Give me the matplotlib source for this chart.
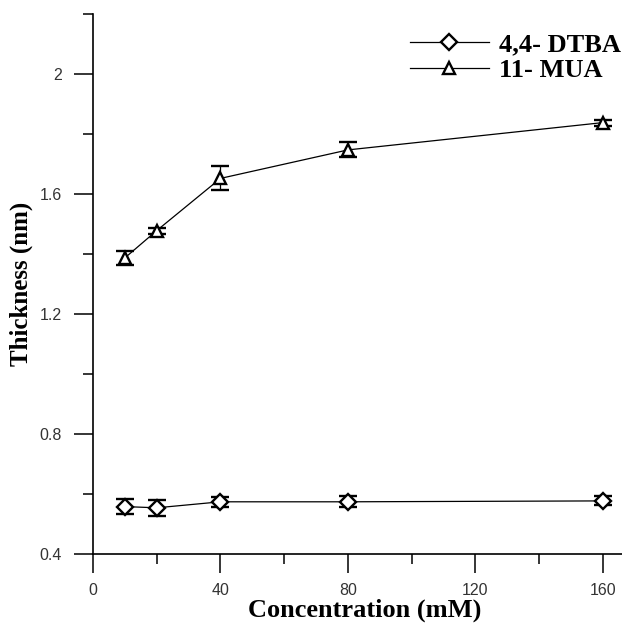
import matplotlib
matplotlib.use('Agg')
import matplotlib.pyplot as plt
from matplotlib.ticker import FixedLocator
from matplotlib.lines import Line2D

conc = [10, 20, 40, 80, 160]
dtba = [0.558, 0.554, 0.574, 0.574, 0.577]
dtba_err = [0.025, 0.027, 0.016, 0.018, 0.015]
mua = [1.387, 1.478, 1.652, 1.747, 1.838]
mua_err = [0.022, 0.01, 0.04, 0.025, 0.01]

xticks = [0, 40, 80, 120, 160]
yticks = [0.4, 0.8, 1.2, 1.6, 2.0]
ytick_labels = ['0.4', '0.8', '1.2', '1.6', '2']

fig = plt.figure(figsize=(6.22, 6.23), dpi=100)
ax = fig.add_axes([93 / 622, 1 - 554 / 623, 1 - 93 / 622, 540 / 623])

style = dict(color='black', lw=0.9, ms=8, mfc='white', mec='black', mew=1.7)
ax.errorbar(conc, dtba, yerr=dtba_err, marker='D', capsize=6.5,
            elinewidth=0.9, capthick=1.2, **style)
ax.errorbar(conc, mua, yerr=mua_err, marker='^', capsize=6.5,
            elinewidth=0.9, capthick=1.2, **style)

ax.set_xlim(0, 166)
ax.set_ylim(0.4, 2.2)
ax.set_xticks(xticks)
ax.set_yticks(yticks)
ax.set_yticklabels(ytick_labels)
ax.xaxis.set_minor_locator(FixedLocator([20, 60, 100, 140]))
ax.yaxis.set_minor_locator(FixedLocator([0.6, 1.0, 1.4, 1.8, 2.2]))

for s in ['top', 'right']:
    ax.spines[s].set_visible(False)
for s in ['left', 'bottom']:
    ax.spines[s].set_linewidth(1.2)

ax.tick_params(which='major', direction='out', length=13.5, width=1.1,
               labelsize=11.5, pad=9)
ax.tick_params(axis='x', which='major', pad=7.5)
ax.tick_params(which='minor', direction='out', length=7, width=1.1)
for lab in ax.get_xticklabels() + ax.get_yticklabels():
    lab.set_fontfamily('Liberation Sans')
    lab.set_color('#333333')

ax.set_xlabel('Concentration (mM)', fontfamily='Liberation Serif',
              fontweight='bold', fontsize=19)
ax.set_ylabel('Thickness (nm)', fontfamily='Liberation Serif',
              fontweight='bold', fontsize=18)
ax.xaxis.set_label_coords(0.514, -0.083)
ax.yaxis.set_label_coords(-0.113, 0.5)

handles = [Line2D([], [], marker='D', **style),
           Line2D([], [], marker='^', **style)]
ax.legend(handles, ['4,4- DTBA', '11- MUA'], loc='upper right', frameon=False,
          handlelength=3.0, handletextpad=0.4, labelspacing=0.1,
          prop={'family': 'Liberation Serif', 'weight': 'bold', 'size': 19},
          bbox_to_anchor=(1.019, 0.985), borderaxespad=0.0)

fig.savefig('out.png', dpi=100)
